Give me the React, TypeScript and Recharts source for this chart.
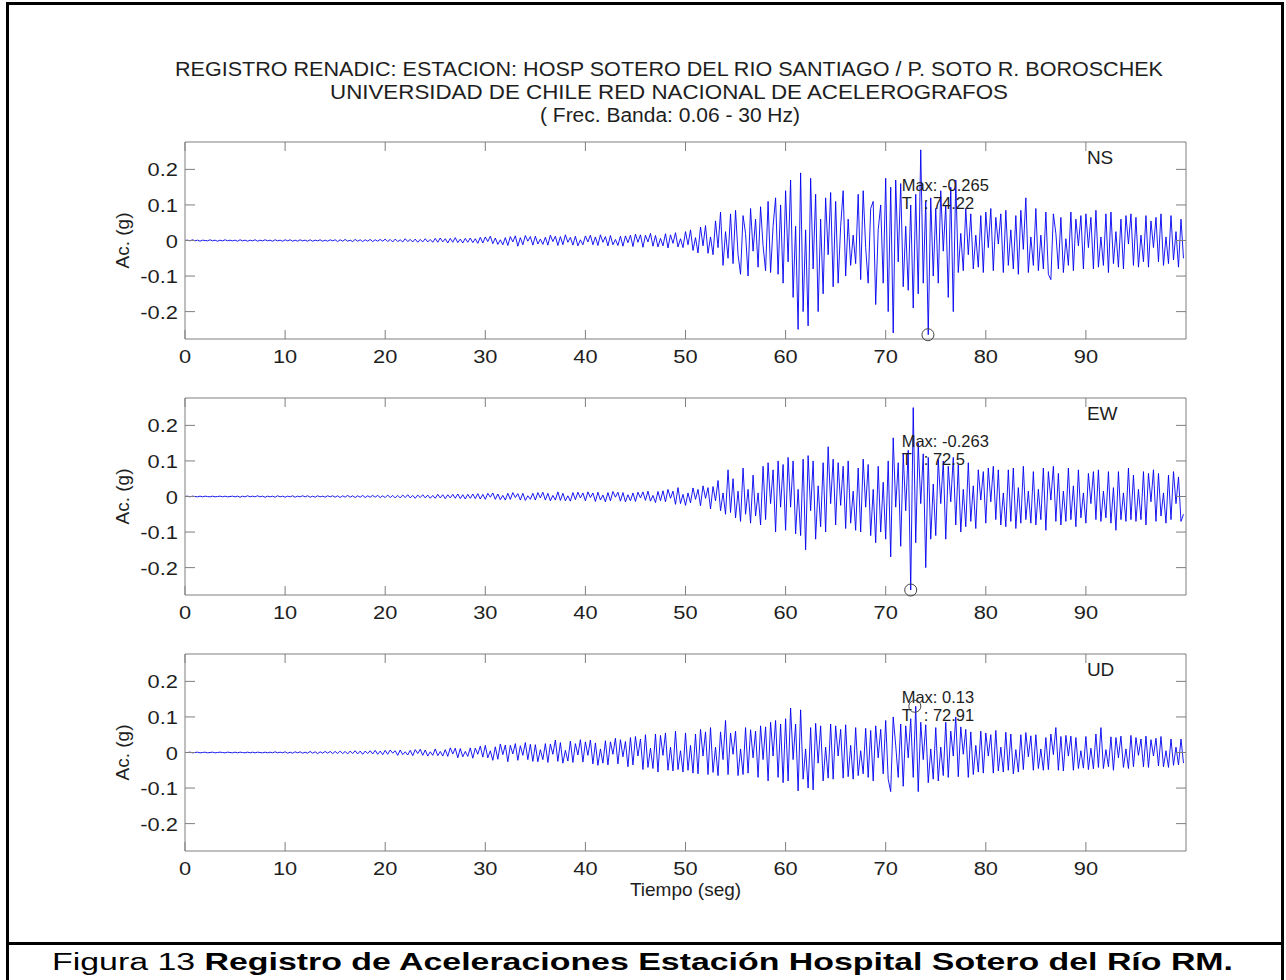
import React from 'react';
import { LineChart, Line, XAxis, YAxis, ReferenceArea, ReferenceDot } from 'recharts';

const FONT = '"Liberation Sans", Arial, Helvetica, sans-serif';
const AXIS = '#7f7f7f';
const TXT = '#1e1e1e';
const TRACE = '#0000f0';

// sampling step of the hand-read traces (s)
const DT = 0.25;
const X_DOMAIN: [number, number] = [0, 100];
const Y_DOMAIN: [number, number] = [-0.277, 0.277];
const X_TICKS = [0, 10, 20, 30, 40, 50, 60, 70, 80, 90];
const Y_TICKS = [-0.2, -0.1, 0, 0.1, 0.2];

// accelerations in milli-g, one row = 5 s
const NS_MG = [
  0, 1, -1, 2, -1, 1, -2, 1, 0, -1, 2, -1, 1, -2, 1, -1, 2, -1, 1, -1,
  1, -2, 2, -1, 1, -2, 1, -1, 2, -2, 1, -1, 2, -1, 1, -2, 2, -1, 1, -2,
  2, -1, 2, -2, 1, -2, 2, -1, 1, -2, 2, -2, 1, -1, 2, -2, 1, -2, 2, -1,
  2, -3, 2, -2, 3, -2, 1, -3, 3, -2, 2, -3, 2, -2, 3, -3, 2, -2, 3, -2,
  4, -3, 3, -4, 4, -3, 2, -4, 5, -3, 3, -4, 4, -5, 3, -4, 5, -4, 3, -5,
  6, -5, 7, -4, 5, -7, 6, -5, 8, -6, 4, -7, 6, -5, 7, -6, 5, -8, 9, -7,
  10, -3, 12, -9, 7, -11, 2, -12, 8, -14, 11, -4, 13, -16, 8, -12, 14, -2, 11, -13,
  12, -10, 4, -11, 9, -13, 15, -3, 12, -14, 11, -12, 16, -5, 9, -13, 12, -15, 2, -12,
  13, -4, 15, -12, 10, -14, 16, -5, 11, -15, 14, -12, 3, -14, 12, -16, 13, -6, 15, -17,
  18, -5, 16, -19, 15, -4, 20, -16, 14, -18, 6, -15, 19, -21, 16, -8, 22, -18, 5, -20,
  25, -12, 30, -28, 8, -35, 38, -15, 42, -36, 10, -40, 55, -20, 80, -70, 25, -50, 75, -65,
  85, -40, -95, 70, 20, -100, 90, -30, 60, -75, 95, -15, -85, 110, -90, 40, 120, -95, 100, -120,
  140, -60, 170, -160, 40, -250, 190, -200, 30, -240, 175, -80, 130, -200, 60, -150, 120, -40, 135, -130,
  110, -120, 40, 140, -100, 60, -70, 15, -65, 130, -110, 140, -20, -120, 90, 110, -180, 30, 100, -120,
  175, -200, 150, -260, 170, -60, 160, -130, 40, -140, 100, -190, 130, -150, 255, -120, 110, -265, 120, -100,
  90, -120, 140, -30, 100, -160, 150, -200, 170, -90, 20, -85, 90, -40, 75, -80, 15, -75, 70, -90,
  80, -20, 90, -85, 65, -10, 75, -90, 85, -70, 30, -80, 70, -95, 85, -25, 120, -90, 10, -70,
  90, -85, 15, -80, 80, -95, -110, 75, 20, -80, 65, -90, 5, -70, 80, -85, 60, -15, 70, -80,
  75, -20, 65, -80, 85, -75, 10, -70, 75, -90, 80, -65, 25, -75, 60, -80, 70, -10, 75, -70,
  65, -75, 15, -60, 70, -75, 55, -20, 65, -60, 75, -70, 10, -65, 70, -55, 25, -75, 60, -50,
];

const EW_MG = [
  0, 1, -1, 1, 0, -1, 1, -1, 1, 0, -1, 1, -1, 0, 1, -1, 1, -1, 0, 1,
  -1, 1, -2, 1, -1, 2, -1, 1, -1, 2, -1, 1, -2, 1, -1, 1, -2, 2, -1, 1,
  -2, 1, -1, 2, -2, 1, -1, 2, -1, 2, -2, 1, -2, 2, -1, 1, -2, 2, -1, 2,
  -2, 2, -3, 2, -2, 3, -2, 2, -3, 2, -2, 3, -3, 2, -2, 3, -2, 3, -3, 2,
  -3, 4, -3, 3, -4, 3, -4, 4, -3, 5, -4, 3, -5, 4, -3, 5, -4, 4, -5, 3,
  -5, 6, -4, 5, -6, 5, -4, 6, -5, 7, -6, 5, -7, 6, -5, 7, -6, 8, -7, 6,
  -8, 9, -2, 10, -8, 7, -9, 3, -10, 9, -8, 11, -3, 8, -10, 9, -11, 2, -8, 9,
  -10, 11, -4, 12, -10, 9, -12, 3, -10, 13, -11, 9, -12, 2, -13, 11, -9, 12, -4, 10,
  -12, 13, -3, 10, -14, 12, -10, 4, -15, 11, -12, 14, -2, 12, -13, 11, -15, 5, -12, 10,
  -14, 12, -4, 13, -11, 15, -13, 3, -17, 14, -12, 16, -15, 20, -5, 15, -22, 25, -20, 6,
  -25, 10, -18, 24, -8, 20, -26, 30, -5, 25, -35, 28, -12, 45, -40, 10, -50, 75, -45, 50,
  -60, 15, -70, 80, -50, 20, -75, 60, -55, 10, -80, 85, -65, 95, -20, 75, -100, 100, -30, 90,
  -95, 110, -30, 100, -105, 20, -110, 105, -150, 115, -40, 100, -120, 30, -85, 95, -100, 140, -20, 105,
  -80, 95, -25, 85, -90, 100, -75, 15, -95, 80, -100, 105, -30, 90, -110, 20, -130, 85, -100, 40,
  -120, 100, -170, 165, -30, 95, -140, 120, -40, 130, -263, 250, -130, 150, -20, 120, -200, 110, -120, 35,
  -110, 105, -20, 100, -120, 85, -15, 110, -80, 90, -100, 20, -85, 95, -70, 30, -90, 75, -10, 70,
  -75, 80, -15, 85, -65, 75, -80, 10, -85, 75, -70, 80, -90, 25, -75, 85, -65, 15, -75, 70,
  -80, 20, -65, 80, -95, 70, -10, 85, -70, 65, -80, 15, -70, 80, -65, 30, -85, 75, -60, 10,
  -75, 65, -20, 70, -65, 75, -70, 15, -60, 70, -75, 25, -95, 70, -65, 10, -70, 80, -65, 60,
  -70, 20, -65, 70, -80, 65, -15, 75, -70, 65, -55, 10, -75, 60, -65, 70, -20, 55, -70, -50,
];

const UD_MG = [
  0, 0, 1, -1, 0, 1, -1, 0, 1, -1, 0, 1, -1, 0, 1, 0, -1, 1, 0, -1,
  1, -1, 1, 0, -1, 1, -1, 1, -1, 1, 0, -1, 1, -1, 1, -1, 2, -1, 1, -1,
  2, -2, 1, -2, 2, -1, 2, -2, 1, -2, 3, -2, 2, -3, 2, -2, 3, -2, 3, -3,
  3, -3, 4, -3, 3, -4, 4, -3, 5, -4, 4, -5, 4, -3, 5, -4, 6, -5, 4, -6,
  6, -5, 7, -2, 5, -8, 7, -6, 2, -7, 6, -9, 8, -3, 9, -8, 7, -10, 2, -8,
  10, -9, 3, -10, 8, -11, 13, -4, 12, -15, 11, -12, 3, -11, 13, -16, 12, -5, 18, -13,
  20, -15, 5, -22, 16, -19, 24, -6, 21, -26, 20, -4, 25, -22, 19, -8, 28, -20, 23, -25,
  22, -26, 8, -20, 25, -28, 24, -5, 35, -25, 28, -30, 6, -24, 32, -28, 25, -7, 36, -27,
  30, -8, 35, -32, 27, -36, 10, -30, 33, -35, 30, -5, 40, -32, 36, -12, 31, -40, 42, -35,
  45, -10, 38, -48, 50, -42, 12, -45, 52, -55, 48, -8, 55, -50, 15, -52, 60, -48, 5, -55,
  55, -50, 20, -58, 52, -60, 65, -10, 58, -62, 70, -56, 15, -65, 58, -20, 90, -62, 55, -5,
  60, -65, 10, -62, 70, -58, 64, -15, 60, -70, 75, -20, 72, -80, 85, -10, 90, -70, 80, -85,
  95, -80, 125, -20, 80, -108, 120, -75, 10, -100, 70, -105, 82, -30, 75, -80, 15, -72, 80, -75,
  75, -10, 65, -72, 78, -68, 20, -75, 70, -65, 5, -60, 68, -70, 62, -80, 75, -15, 65, -60,
  90, -75, -110, 100, 20, -70, 80, -95, 75, -15, 95, -70, 130, -110, 85, -20, 78, -85, 10, -75,
  70, -80, 15, -65, 85, -70, 60, -10, 100, -68, 72, -5, 65, -70, 58, -62, 20, -55, 60, -58,
  55, -10, 50, -58, 62, -52, 15, -55, 57, -50, 52, -60, 8, -55, 50, -48, 56, -12, 47, -50,
  50, -45, 10, -50, 42, -48, 52, -6, 70, -50, 45, -52, 48, -10, 46, -50, 42, -45, 5, -44,
  45, -48, 12, -46, 52, -42, 70, -45, 8, -40, 44, -50, 42, -15, 46, -42, 10, -45, 48, -40,
  42, -8, 38, -40, 46, -42, 36, -10, 40, -38, 45, -40, 5, -42, 38, -36, 15, -35, 38, -30,
];

const CHANNELS = ['NS', 'EW', 'UD'];
const MAX_T = [74.22, 72.5, 72.91];
const MAX_V = [-0.265, -0.263, 0.13];
const MAX_LABELS = ['-0.265', '-0.263', '0.13'];
const T_LABELS = ['74.22', '72.5', '72.91'];

const TITLE_1 = 'REGISTRO RENADIC: ESTACION: HOSP SOTERO DEL RIO SANTIAGO / P. SOTO R. BOROSCHEK';
const TITLE_2 = 'UNIVERSIDAD DE CHILE RED NACIONAL DE ACELEROGRAFOS';
const TITLE_3 = '( Frec. Banda: 0.06 - 30 Hz)';

// layout
const W = 1286;
const PANEL_TOPS = [142, 398, 654];
const PLOT_LEFT = 185;
const RIGHT_M = 100;
const PLOT_W = W - PLOT_LEFT - RIGHT_M;
const PLOT_H = 197;
const TOP_PAD = 40;
const BOTTOM_PAD = 60;
const TICK_LEN = 9;

function toSeries(mg: number[]) {
  return mg.map((v, i) => ({ t: i * DT, a: v / 1000 }));
}
const SERIES = [toSeries(NS_MG), toSeries(EW_MG), toSeries(UD_MG)];

const XTick = (props: any) => {
  const { x, y, payload } = props;
  return (
    <g>
      <line x1={x} x2={x} y1={y} y2={y - TICK_LEN} stroke={AXIS} />
      <line x1={x} x2={x} y1={y - PLOT_H} y2={y - PLOT_H + TICK_LEN} stroke={AXIS} />
      <text
        transform={`translate(${x},${y + 24}) scale(1.15,1)`}
        textAnchor="middle"
        fontSize={19}
        fontFamily={FONT}
        fill={TXT}
      >
        {String(payload.value)}
      </text>
    </g>
  );
};

const YTick = (props: any) => {
  const { x, y, payload } = props;
  return (
    <g>
      <line x1={x} x2={x + TICK_LEN + 1} y1={y} y2={y} stroke={AXIS} />
      <line x1={x + PLOT_W} x2={x + PLOT_W - TICK_LEN - 1} y1={y} y2={y} stroke={AXIS} />
      <text
        transform={`translate(${x - 7},${y + 7}) scale(1.15,1)`}
        textAnchor="end"
        fontSize={19}
        fontFamily={FONT}
        fill={TXT}
      >
        {String(payload.value)}
      </text>
    </g>
  );
};

const textShape = (content: React.ReactNode, size: number) => (p: any) => (
  <text x={p.cx} y={p.cy} fontSize={size} fontFamily={FONT} fill={TXT}>
    {content}
  </text>
);

function Panel({ idx }: { idx: number }) {
  const last = idx === 2;
  const h = TOP_PAD + PLOT_H + BOTTOM_PAD;
  return (
    <div style={{ position: 'absolute', left: 0, top: PANEL_TOPS[idx] - TOP_PAD }}>
      <LineChart
        width={W}
        height={h}
        data={SERIES[idx]}
        margin={{ top: TOP_PAD, right: RIGHT_M, bottom: BOTTOM_PAD - 20, left: PLOT_LEFT - 40 }}
      >
        <XAxis
          dataKey="t"
          type="number"
          domain={X_DOMAIN}
          ticks={X_TICKS}
          interval={0}
          height={20}
          tickSize={0}
          tickMargin={0}
          tickLine={false}
          axisLine={false}
          tick={(p: any) => <XTick {...p} />}
          label={
            last
              ? {
                  content: () => (
                    <text
                      x={PLOT_LEFT + PLOT_W / 2}
                      y={TOP_PAD + PLOT_H + 45}
                      textAnchor="middle"
                      fontSize={19}
                      fontFamily={FONT}
                      fill={TXT}
                    >
                      Tiempo (seg)
                    </text>
                  ),
                }
              : undefined
          }
        />
        <YAxis
          type="number"
          domain={Y_DOMAIN}
          ticks={Y_TICKS}
          interval={0}
          width={40}
          tickSize={0}
          tickMargin={0}
          tickLine={false}
          axisLine={false}
          tick={(p: any) => <YTick {...p} />}
          label={{
            content: () => (
              <text
                transform={`translate(${PLOT_LEFT - 56},${TOP_PAD + PLOT_H / 2}) rotate(-90)`}
                textAnchor="middle"
                fontSize={19}
                fontFamily={FONT}
                fill={TXT}
              >
                Ac. (g)
              </text>
            ),
          }}
        />
        <ReferenceArea
          x1={X_DOMAIN[0]}
          x2={X_DOMAIN[1]}
          y1={Y_DOMAIN[0]}
          y2={Y_DOMAIN[1]}
          fill="none"
          fillOpacity={0}
          stroke={AXIS}
          strokeWidth={1}
        />
        <ReferenceDot x={71.6} y={0.14} r={1} shape={textShape(`Max: ${MAX_LABELS[idx]}`, 16.5)} />
        <ReferenceDot x={71.6} y={0.088} r={1} shape={textShape('T', 16.5)} />
        <ReferenceDot x={73.8} y={0.088} r={1} shape={textShape(`: ${T_LABELS[idx]}`, 16.5)} />
        <ReferenceDot x={90.1} y={0.214} r={1} shape={textShape(CHANNELS[idx], 19)} />
        <Line
          dataKey="a"
          type="linear"
          stroke={TRACE}
          strokeWidth={0.9}
          dot={false}
          isAnimationActive={false}
        />
        <ReferenceDot
          x={MAX_T[idx]}
          y={MAX_V[idx]}
          r={6}
          fill="none"
          stroke="#444"
          strokeWidth={1}
        />
      </LineChart>
    </div>
  );
}

export default function App() {
  return (
    <div
      style={{
        position: 'absolute',
        left: 0,
        top: 0,
        width: W,
        height: 980,
        background: '#fff',
        overflow: 'hidden',
        fontFamily: FONT,
      }}
    >
      {/* frame */}
      <div style={{ position: 'absolute', left: 6, top: 2, width: 1278, height: 3, background: '#000' }} />
      <div style={{ position: 'absolute', left: 6, top: 2, width: 3, height: 978, background: '#000' }} />
      <div style={{ position: 'absolute', left: 1281, top: 2, width: 3, height: 978, background: '#000' }} />
      <div style={{ position: 'absolute', left: 6, top: 942, width: 1278, height: 3, background: '#000' }} />

      <svg width={W} height={980} style={{ position: 'absolute', left: 0, top: 0 }}>
        <text x={175} y={76} fontSize={19.5} fontFamily={FONT} fill={TXT} textLength={988} lengthAdjust="spacingAndGlyphs">
          {TITLE_1}
        </text>
        <text x={330} y={99} fontSize={19.5} fontFamily={FONT} fill={TXT} textLength={678} lengthAdjust="spacingAndGlyphs">
          {TITLE_2}
        </text>
        <text x={540} y={122} fontSize={19.5} fontFamily={FONT} fill={TXT} textLength={260} lengthAdjust="spacingAndGlyphs">
          {TITLE_3}
        </text>
        <text x={52} y={970} fontSize={23} fontFamily={FONT} fill="#000" textLength={1181} lengthAdjust="spacingAndGlyphs">
          Figura 13 <tspan fontWeight="bold">Registro de Aceleraciones Estación Hospital Sotero del Río RM.</tspan>
        </text>
      </svg>

      {[0, 1, 2].map((i) => (
        <Panel key={i} idx={i} />
      ))}
    </div>
  );
}
